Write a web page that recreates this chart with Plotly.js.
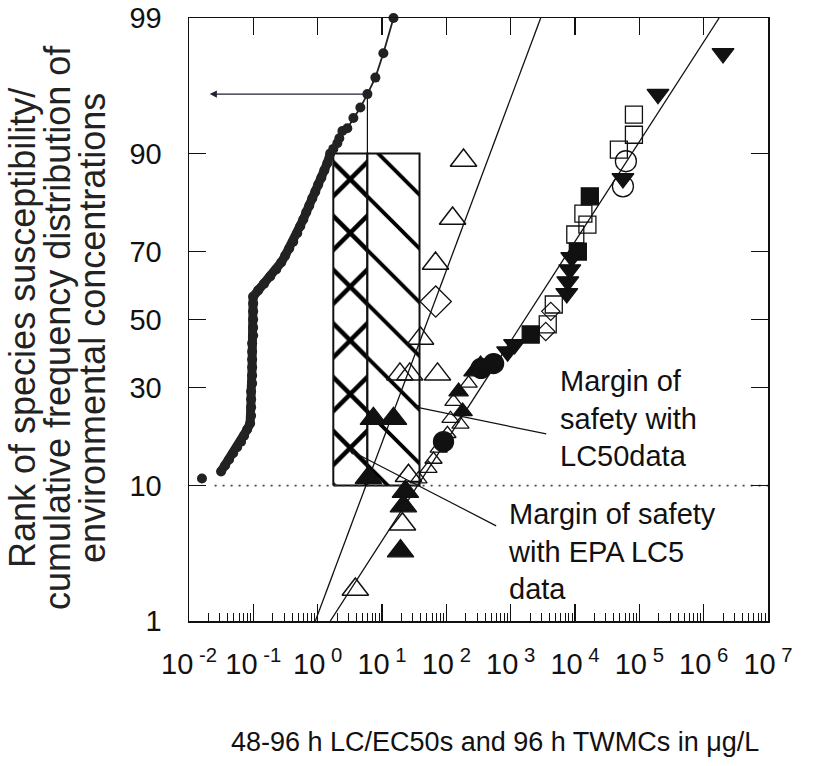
<!DOCTYPE html>
<html><head><meta charset="utf-8">
<script src="https://cdn.plot.ly/plotly-3.0.1.min.js"></script>
<style>body{margin:0;background:#fff}</style>
</head><body><div id="chart" style="width:818px;height:766px"></div>
<script>
// ---------------- data (x in ug/L, y in cumulative percent) ----------------
// Environmental concentrations (96 h TWMCs), cumulative distribution
const envX = [0.0315,0.0364,0.0420,0.0485,0.0560,0.0646,0.0719,0.080,0.089,
  0.0924,0.0924,0.0924,0.0924,0.0958,0.0958,0.0958,0.0958,0.0958,0.0958,0.0993,0.0993,0.0993,0.0993,0.0993,0.0993,
  0.119,0.147,0.183,0.227,0.271,0.313,0.361,0.417,0.481,0.536,0.597,0.664,0.740,0.824,0.918,1.02,1.14,1.27,1.41,1.57,1.75,2.02,2.17,2.42,2.89,3.59,4.61,5.93,7.89,10.5,15.1];
const envP = [12.05,13.0,14.0,15.1,16.2,17.3,18.5,19.8,21.1,
  22.9,24.9,26.9,28.9,31.1,33.3,35.6,37.9,40.2,42.7,45.1,47.5,50.0,52.5,54.9,57.0,
  58.9,60.9,63.0,65.0,67.0,68.9,70.8,72.6,74.7,76.4,78.0,79.6,81.0,82.5,83.8,85.1,86.3,87.5,88.6,90.0,90.6,91.3,91.9,92.7,93.0,94.0,94.9,95.9,96.9,98.0,99.0];
const envIsoX = [0.0159];
const envIsoP = [11.0];

// Species sensitivity (LC/EC50) groups
const bigOpenTriX = [185, 125, 67.9, 39.7, 73, 19, 27, 25.8, 20.8, 3.85];
const bigOpenTriP = [89.0, 78.2, 66.7, 44.2, 33.6, 33.6, 33.6, 11.4, 5.7, 1.86];
const bigFillTriX = [7.35, 15.1, 6.14, 23.1, 21.5, 19.4];
const bigFillTriP = [22.2, 22.2, 11.1, 9.2, 7.5, 3.7];
const openTriX = [36.9, 52.8, 63.2, 76, 104, 116, 166, 129, 222];
const openTriP = [10.9, 12.5, 14.0, 16.0, 18.9, 22.2, 20.9, 26.3, 31.1];
const fillTriX = [179, 155, 265, 341];
const fillTriP = [23.9, 28.9, 34.4, 36.4];
const fillCircX = [90.4, 347, 543];
const fillCircP = [17.3, 35.3, 36.7];
const fillDownX = [897, 1150, 7450, 7730, 8300, 8910, 55600, 195000, 2000000];
const fillDownP = [40.2, 42.4, 58.0, 61.5, 65.0, 68.4, 86.2, 95.9, 98.0];
const fillSqX = [2050, 11070, 17000];
const fillSqP = [45.4, 70.0, 82.9];
const openSqX = [3770, 4680, 10100, 15600, 13500, 48100, 82400, 82400];
const openSqP = [48.5, 54.6, 74.4, 76.8, 79.3, 90.5, 92.3, 94.3];
const openCircX = [55600, 61800];
const openCircP = [84.8, 88.9];
const bigDiamX = [68.4];
const bigDiamP = [55.5];
const smallDiamX = [3510, 4200];
const smallDiamP = [46.3, 52.5];

// Fitted distribution lines
const lineAX = [0.92, 2930];     const lineAP = [1, 99];
const lineBX = [1.57, 1740000];  const lineBP = [1, 99];

// Margin-of-safety box (range of concentrations, 10th to 90th percentile)
const boxLeftX = 1.75, boxMidX = 5.93, boxRightX = 38.3;
const boxLowP = 10, boxHighP = 90;
// read-off arrow
const readX = 5.93, readP = 95.9, readEndX = 0.021;
// 10 % reference level
const refLevelX = [0.025, 1e7];
const refLevelP = [10, 10];

// ticks
const yTickPct = [1, 10, 30, 50, 70, 90, 99];
const xDecades = [-2,-1,0,1,2,3,4,5,6,7];
const xTickText = xDecades.map(e => '10<sup>\u00a0' + e + '</sup>');

// ---------------- probit scale ----------------
function probit(p){
  const a=[-3.969683028665376e+01,2.209460984245205e+02,-2.759285104469687e+02,1.383577518672690e+02,-3.066479806614716e+01,2.506628277459239e+00];
  const b=[-5.447609879822406e+01,1.615858368580409e+02,-1.556989798598866e+02,6.680131188771972e+01,-1.328068155288572e+01];
  const c=[-7.784894002430293e-03,-3.223964580411365e-01,-2.400758277161838e+00,-2.549732539343734e+00,4.374664141464968e+00,2.938163982698783e+00];
  const d=[7.784695709041462e-03,3.224671290700398e-01,2.445134137142996e+00,3.754408661907416e+00];
  const pl=0.02425, ph=1-pl; let q,r;
  if(p<pl){q=Math.sqrt(-2*Math.log(p));return (((((c[0]*q+c[1])*q+c[2])*q+c[3])*q+c[4])*q+c[5])/((((d[0]*q+d[1])*q+d[2])*q+d[3])*q+1);}
  if(p>ph){q=Math.sqrt(-2*Math.log(1-p));return -(((((c[0]*q+c[1])*q+c[2])*q+c[3])*q+c[4])*q+c[5])/((((d[0]*q+d[1])*q+d[2])*q+d[3])*q+1);}
  q=p-0.5;r=q*q;return (((((a[0]*r+a[1])*r+a[2])*r+a[3])*r+a[4])*r+a[5])*q/(((((b[0]*r+b[1])*r+b[2])*r+b[3])*r+b[4])*r+1);
}
const Z = arr => arr.map(v => probit(v/100));
const L10 = Math.log10;

// ---------------- layout geometry helpers ----------------
const W = 818, H = 766, ML = 189, MR = 50, MT = 18, MB = 145;
const PW = W - ML - MR, PH = H - MT - MB;
const px = v => (v - ML) / PW;
const py = v => (H - MB - v) / PH;

const FONT = 'Liberation Sans, Arial, sans-serif';
const INK = '#111';

const minorVals = [];
for (let e = -2; e < 7; e++) for (let k = 2; k <= 9; k++) minorVals.push(k * Math.pow(10, e));

function markers(x, p, symbol, size, filled, lw) {
  return {x: x, y: Z(p), type: 'scatter', mode: 'markers', cliponaxis: false,
    marker: {symbol: symbol, size: size, color: filled ? INK : 'rgba(0,0,0,0)',
      line: {color: INK, width: lw || 1.3}}};
}

// dense part of the environmental distribution (up to the 90th percentile) forms a thick band
const envBandEnd = envP.indexOf(boxHighP) + 1;

const traces = [
  // hatched box: cross-hatch part and single-hatch part
  {x: [boxLeftX, boxMidX, boxMidX, boxLeftX, boxLeftX], y: Z([boxLowP, boxLowP, boxHighP, boxHighP, boxLowP]),
   type: 'scatter', mode: 'lines', fill: 'toself', fillcolor: 'white',
   fillpattern: {shape: 'x', size: 38, solidity: 0.22, fgcolor: 'black', bgcolor: 'white'},
   line: {color: INK, width: 2}},
  {x: [boxMidX, boxRightX, boxRightX, boxMidX, boxMidX], y: Z([boxLowP, boxLowP, boxHighP, boxHighP, boxLowP]),
   type: 'scatter', mode: 'lines', fill: 'toself', fillcolor: 'white',
   fillpattern: {shape: '\\', size: 38, solidity: 0.1, fgcolor: 'black', bgcolor: 'white'},
   line: {color: INK, width: 2}},
  // 10 % reference dotted line
  {x: refLevelX, y: Z(refLevelP), type: 'scatter', mode: 'lines',
   line: {color: '#444', width: 1.6, dash: '2px,6px'}},
  // read-off vertical line
  {x: [readX, readX], y: Z([boxLowP, readP]), type: 'scatter', mode: 'lines', line: {color: INK, width: 1.2}},
  // fitted lines
  {x: lineAX, y: Z(lineAP), type: 'scatter', mode: 'lines', line: {color: INK, width: 1.3}},
  {x: lineBX, y: Z(lineBP), type: 'scatter', mode: 'lines', line: {color: INK, width: 1.3}},
  // environmental concentration distribution
  {x: envX, y: Z(envP), type: 'scatter', mode: 'lines+markers', cliponaxis: false,
   line: {color: '#222', width: 1.8}, marker: {symbol: 'circle', size: 10, color: '#222'}},
  {x: envX.slice(0, envBandEnd), y: Z(envP.slice(0, envBandEnd)), type: 'scatter', mode: 'lines',
   line: {color: '#222', width: 9}},
  {x: envIsoX, y: Z(envIsoP), type: 'scatter', mode: 'markers', marker: {symbol: 'circle', size: 10, color: '#222'}},
  // species sensitivity markers
  markers(bigDiamX, bigDiamP, 'diamond', 24, false, 1.3),
  markers(smallDiamX, smallDiamP, 'diamond', 14, false, 1.2),
  markers(openSqX, openSqP, 'square', 17, false, 1.3),
  markers(openCircX, openCircP, 'circle', 21, false, 1.3),
  markers(openTriX, openTriP, 'triangle-up', 15, false, 1.3),
  markers(bigOpenTriX, bigOpenTriP, 'triangle-up', 23, false, 1.5),
  markers(fillSqX, fillSqP, 'square', 17, true),
  markers(fillCircX, fillCircP, 'circle', 20, true),
  markers(fillTriX, fillTriP, 'triangle-up', 17, true),
  markers(fillDownX, fillDownP, 'triangle-down', 19, true),
  markers(bigFillTriX, bigFillTriP, 'triangle-up', 23, true),
  // top axis carrier
  {x: [], y: [], xaxis: 'x2', yaxis: 'y', type: 'scatter', mode: 'markers'}
];

const annots = [
  {x: L10(readEndX), y: probit(readP/100), ax: L10(readX), ay: probit(readP/100), axref: 'x', ayref: 'y',
   xref: 'x', yref: 'y', text: '', showarrow: true, arrowhead: 2, arrowsize: 1.3, arrowwidth: 1.1, arrowcolor: '#223', standoff: 0},
  {x: 1.489, y: probit(0.251), ax: 3.576, ay: probit(0.188), axref: 'x', ayref: 'y', xref: 'x', yref: 'y',
   text: '', showarrow: true, arrowhead: 2, arrowsize: 1, arrowwidth: 1.2, arrowcolor: INK, standoff: 0},
  {x: 0.477, y: probit(0.158), ax: 2.798, ay: probit(0.055), axref: 'x', ayref: 'y', xref: 'x', yref: 'y',
   text: '', showarrow: true, arrowhead: 2, arrowsize: 1, arrowwidth: 1.2, arrowcolor: INK, standoff: 0},
  {xref: 'paper', yref: 'paper', x: px(558), y: py(418), xanchor: 'left', yanchor: 'middle', align: 'left',
   showarrow: false, text: 'Margin of<br>safety with<br>LC50data', font: {family: FONT, size: 29, color: INK}},
  {xref: 'paper', yref: 'paper', x: px(506), y: py(551), xanchor: 'left', yanchor: 'middle', align: 'left',
   showarrow: false, text: 'Margin of safety<br>with EPA LC5<br>data', font: {family: FONT, size: 29, color: INK}},
  {xref: 'paper', yref: 'paper', x: px(495), y: py(742), xanchor: 'center', yanchor: 'middle',
   showarrow: false, text: '48-96 h LC/EC50s and 96 h TWMCs in \u03bcg/L', font: {family: FONT, size: 27, color: INK}},
  {xref: 'paper', yref: 'paper', x: px(22), y: py(328), xanchor: 'center', yanchor: 'middle', textangle: -90,
   showarrow: false, text: 'Rank of species susceptibility/', font: {family: FONT, size: 36, color: '#222'}},
  {xref: 'paper', yref: 'paper', x: px(57), y: py(328), xanchor: 'center', yanchor: 'middle', textangle: -90,
   showarrow: false, text: 'cumulative frequency distribution of', font: {family: FONT, size: 36, color: '#222'}},
  {xref: 'paper', yref: 'paper', x: px(92), y: py(328), xanchor: 'center', yanchor: 'middle', textangle: -90,
   showarrow: false, text: 'environmental concentrations', font: {family: FONT, size: 36, color: '#222'}}
];

const layout = {
  width: W, height: H, margin: {l: ML, r: MR, t: MT, b: MB, pad: 0},
  paper_bgcolor: 'white', plot_bgcolor: 'white', showlegend: false, hovermode: false,
  font: {family: FONT, color: INK},
  xaxis: {type: 'log', range: [-2, 7], tickmode: 'array', tickvals: xDecades.map(e => Math.pow(10, e)), ticktext: xTickText,
    ticks: 'inside', ticklen: 17, tickwidth: 1.5, tickcolor: INK, showline: true, linecolor: INK, linewidth: 1.5,
    mirror: false, showgrid: false, zeroline: false, tickfont: {family: FONT, size: 29, color: INK}, ticklabelstandoff: 17,
    minor: {tickmode: 'array', tickvals: minorVals, ticks: 'inside', ticklen: 8, tickwidth: 1, tickcolor: INK, showgrid: false}},
  xaxis2: {type: 'log', range: [-2, 7], overlaying: 'x', side: 'top', anchor: 'y', tickmode: 'array',
    tickvals: xDecades.map(e => Math.pow(10, e)), showticklabels: false, ticks: 'inside', ticklen: 17, tickwidth: 1.5,
    tickcolor: INK, showline: true, linecolor: INK, linewidth: 1.5, showgrid: false, zeroline: false},
  yaxis: {range: [probit(0.01), probit(0.99)], tickmode: 'array', tickvals: Z(yTickPct), ticktext: yTickPct.map(String),
    ticks: 'inside', ticklen: 17, tickwidth: 1.5, tickcolor: INK, showline: true, linecolor: INK, linewidth: 1.5,
    mirror: 'ticks', showgrid: false, zeroline: false, tickfont: {family: FONT, size: 29, color: INK}, ticklabelstandoff: 20},
  annotations: annots
};

Plotly.newPlot('chart', traces, layout, {staticPlot: true, displayModeBar: false});
</script>
</body></html>
